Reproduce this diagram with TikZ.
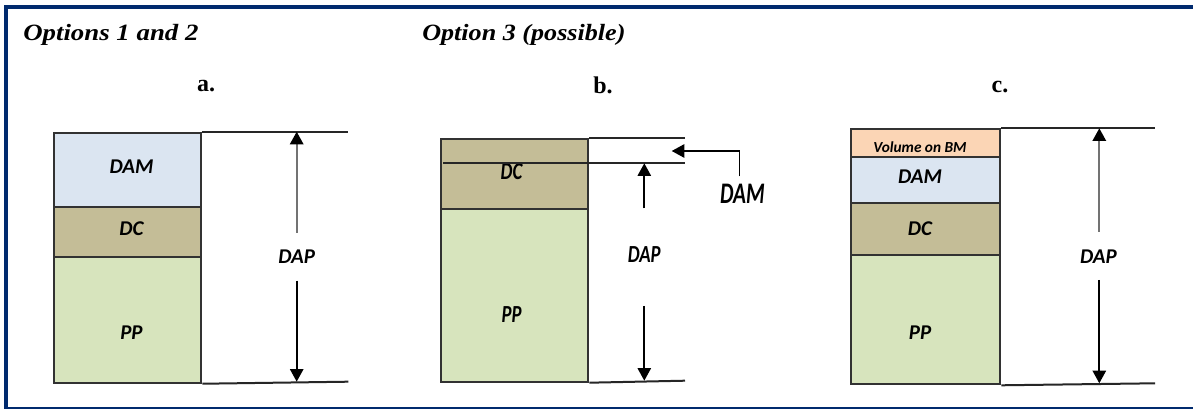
\documentclass[tikz,border=0pt]{standalone}
\usepackage{fontspec}
\setmainfont{Liberation Serif}
\newfontfamily\lab{Carlito}
\usetikzlibrary{arrows.meta}
\definecolor{frameblue}{RGB}{0,42,110}
\definecolor{damblue}{RGB}{219,229,241}
\definecolor{dcbrown}{RGB}{196,189,151}
\definecolor{ppgreen}{RGB}{215,228,189}
\definecolor{bmorange}{RGB}{251,213,181}
\definecolor{edgegray}{RGB}{50,50,50}
\tikzset{
  seg/.style={draw=edgegray, line width=1.5pt, inner sep=0pt, anchor=north west, minimum width=110.6pt},
  rule/.style={draw=black!85, line width=1.5pt},
  arr/.style={draw=black, line width=1.4pt, -{Triangle[width=10pt,length=9.5pt]}},
  arrg/.style={draw=black!55, line width=1.6pt, -{Triangle[width=10pt,length=9.5pt,color=black]}},
  lbl/.style={inner sep=0pt, font=\lab\bfseries\itshape\fontsize{15.75}{18}\selectfont},
  lblb/.style={inner sep=0pt, font=\lab\bfseries\itshape\fontsize{16}{20}\selectfont},
  title/.style={inner sep=0pt, anchor=west, font=\bfseries\itshape\fontsize{17.5}{20}\selectfont},
  letter/.style={inner sep=0pt, font=\bfseries\fontsize{18}{20}\selectfont},
}
\begin{document}
\begin{tikzpicture}[x=0.75pt, y=-0.75pt]
\useasboundingbox (0,0) rectangle (1193,409);
\fill[white] (0,0) rectangle (1193,409);
% frame
\fill[frameblue] (4,5) rectangle (1193,9);
\fill[frameblue] (4,5) rectangle (8,409);
\fill[frameblue] (4,406.8) rectangle (1193,408.8);

% titles
\node[title] (t1) at (23,35) {\scalebox{1.15}[1]{Options 1 and 2}};
\node[title] (t2) at (422,35) {\scalebox{1.12}[1]{Option 3 (possible)}};
\node[letter] (la) at (206,86) {a.};
\node[letter] (lb) at (603,85) {b.};
\node[letter] (lc) at (1000,87) {c.};

% ---------- panel a ----------
\node[seg, fill=damblue, minimum height=55.5pt] (aDAMb) at (53,131.7) {};
\node[seg, fill=dcbrown, minimum height=37.7pt] (aDCb) at (53,205.7) {};
\node[seg, fill=ppgreen, minimum height=94.3pt] (aPPb) at (53,256) {};
\node[lbl] (aDAM) at (131.5,166.7) {DAM};
\node[lbl] (aDC) at (131.5,229) {DC};
\node[lbl] (aPP) at (131.5,333) {PP};
\coordinate (aTR) at (348.3,131.7);
\coordinate (aBR) at (348.3,381.7);
\draw[rule] (aDAMb.north east) -- (aTR);
\draw[rule] (aPPb.south east) -- (aBR);
\node[lbl] (aDAP) at (296.7,256.7) {DAP};
\coordinate (aU) at (296.7,233);
\coordinate (aD) at (296.7,280.7);
\draw[arrg] (aU) -- (aU |- aTR);
\draw[arr] (aD) -- (aD |- aBR);

% ---------- panel b ----------
\node[seg, fill=dcbrown, minimum height=52.5pt] (bDCb) at (440,138.3) {};
\node[seg, fill=ppgreen, minimum height=129.3pt] (bPPb) at (440,208.3) {};
\node[lblb] (bDC) at (511.5,171.5) {\scalebox{0.88}[1.15]{DC}};
\node[lblb] (bPP) at (511.5,315) {\scalebox{0.88}[1.15]{PP}};
\coordinate (bTR) at (685,138.3);
\coordinate (bBR) at (685,380.7);
\coordinate (bML) at (443.3,163.3);
\coordinate (bMR) at (685,163.3);
\draw[rule] (bDCb.north east) -- (bTR);
\draw[rule] (bPPb.south east) -- (bBR);
\draw[rule] (bML) -- (bMR);
\node[lblb] (bDAP) at (644.3,255) {\scalebox{0.88}[1.15]{DAP}};
\coordinate (bU) at (644.3,208.3);
\coordinate (bD) at (644.3,306);
\draw[arr] (bU) -- (bU |- bMR);
\draw[arr] (bD) -- (bD |- bBR);
\node[lblb] (bDAM) at (742.5,194) {\scalebox{1.0}[1.4]{DAM}};
\coordinate (bA1) at (739.5,176.5);
\coordinate (bA2) at (739.5,151);
\coordinate (bA3) at (671.7,151);
\draw[arr] (bA1) -- (bA2) -- (bA3);

% ---------- panel c ----------
\node[seg, fill=bmorange, minimum height=20.8pt, minimum width=112pt] (cBMb) at (850,128.3) {};
\node[seg, fill=damblue, minimum height=34.7pt, minimum width=112pt] (cDAMb) at (850,156) {};
\node[seg, fill=dcbrown, minimum height=39pt, minimum width=112pt] (cDCb) at (850,202.3) {};
\node[seg, fill=ppgreen, minimum height=96.75pt, minimum width=112pt] (cPPb) at (850,254.3) {};
\node[lbl, font=\lab\bfseries\itshape\fontsize{11.5}{13}\selectfont] (cBM) at (920,147.5) {Volume on BM};
\node[lbl] (cDAM) at (920,177) {DAM};
\node[lbl] (cDC) at (920,228.5) {DC};
\node[lbl] (cPP) at (920,333) {PP};
\coordinate (cTR) at (1155,128.3);
\coordinate (cBR) at (1155,383.3);
\draw[rule] (cBMb.north east) -- (cTR);
\draw[rule] (cPPb.south east) -- (cBR);
\node[lbl] (cDAP) at (1098.5,256.7) {DAP};
\coordinate (cU) at (1099.3,231.7);
\coordinate (cD) at (1099.3,280);
\draw[arrg] (cU) -- (cU |- cTR);
\draw[arr] (cD) -- (cD |- cBR);
\end{tikzpicture}
\end{document}
